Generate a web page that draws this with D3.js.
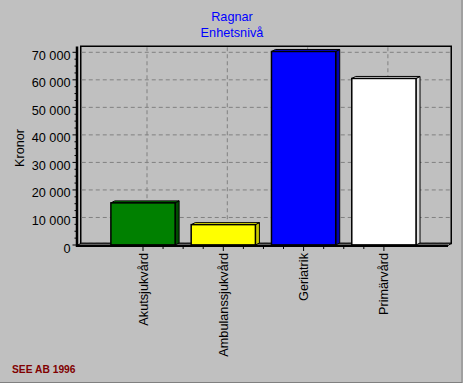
<!DOCTYPE html>
<html><head><meta charset="utf-8">
<script src="https://cdn.jsdelivr.net/npm/d3@7"></script>
<style>html,body{margin:0;padding:0;background:#c0c0c0;}svg{display:block;}</style>
</head><body>
<script>
const categories = ["Akutsjukvård", "Ambulanssjukvård", "Geriatrik", "Primärvård"];
const values = [15300, 7400, 70300, 60500];
const colors = ["#008000", "#ffff00", "#0000ff", "#ffffff"];
const sideColors = ["#004d00", "#c8c800", "#0000b0", "#e0e0e0"];
const yTicks = [0, 10000, 20000, 30000, 40000, 50000, 60000, 70000];
const titleLines = ["Ragnar", "Enhetsnivå"];
const yTitle = "Kronor";
const footer = "SEE AB 1996";

const W = 464, H = 384;
const FONT = "'Liberation Sans', Arial, sans-serif";
const dx = 4, dy = -2;
const svg = d3.select("body").append("svg").attr("width", W).attr("height", H);
svg.append("rect").attr("width", W).attr("height", H).attr("fill", "#c0c0c0");

const y = d3.scaleLinear().domain([0, 70000]).range([245, 52.3]);
const x = d3.scaleBand().domain(categories).range([102.85, 424.05]);
const cx = c => x(c) + x.bandwidth() / 2;
const bw = x.bandwidth() * 0.8;

const wall = {x0: 80.75, x1: 451.25, y0: 46.25, y1: 243.5};
// back wall
svg.append("rect").attr("x", wall.x0).attr("y", wall.y0)
  .attr("width", wall.x1 - wall.x0).attr("height", wall.y1 - wall.y0)
  .attr("fill", "#c0c0c0").attr("stroke", "#000").attr("stroke-width", 1.5);

// horizontal gridlines
svg.append("g").selectAll("line").data(yTicks).join("line")
  .attr("x1", wall.x0 + 1).attr("x2", wall.x1 - 1)
  .attr("y1", d => Math.min(y(d), 243)).attr("y2", d => Math.min(y(d), 243))
  .attr("stroke", "#808080").attr("stroke-dasharray", "4,3");
// vertical gridlines
svg.append("g").selectAll("line").data(categories).join("line")
  .attr("x1", d => cx(d) + dx).attr("x2", d => cx(d) + dx)
  .attr("y1", wall.y0 + 1).attr("y2", wall.y1)
  .attr("stroke", "#808080").attr("stroke-dasharray", "4,3");

// floor
svg.append("polygon")
  .attr("points", [[77, 245.5], [81, 243.3], [451.5, 243.3], [448, 245.5]].map(p => p.join(",")).join(" "))
  .attr("fill", "#c0c0c0").attr("stroke", "#000").attr("stroke-width", 1);

// bars
const bars = svg.append("g").selectAll("g").data(categories).join("g");
bars.each(function(c, i) {
  const g = d3.select(this);
  const x0 = cx(c) - bw / 2, x1 = cx(c) + bw / 2;
  const yt = y(values[i]), yb = y(0);
  g.append("polygon")
    .attr("points", [[x1, yt], [x1 + dx, yt + dy], [x1 + dx, yb + dy], [x1, yb]].map(p => p.join(",")).join(" "))
    .attr("fill", sideColors[i]).attr("stroke", "#000").attr("stroke-width", 1).attr("stroke-linejoin", "round");
  g.append("polygon")
    .attr("points", [[x0, yt], [x0 + dx, yt + dy], [x1 + dx, yt + dy], [x1, yt]].map(p => p.join(",")).join(" "))
    .attr("fill", colors[i]).attr("stroke", "#000").attr("stroke-width", 1).attr("stroke-linejoin", "round");
  g.append("rect").attr("x", x0).attr("y", yt).attr("width", bw).attr("height", yb - yt)
    .attr("fill", colors[i]).attr("stroke", "#000").attr("stroke-width", 1.5);
});

// axes lines
svg.append("line").attr("x1", 77).attr("x2", 77).attr("y1", 46.5).attr("y2", 247)
  .attr("stroke", "#000").attr("stroke-width", 2.5);
svg.append("line").attr("x1", 76).attr("x2", 448).attr("y1", 245.75).attr("y2", 245.75)
  .attr("stroke", "#000").attr("stroke-width", 2.5);

// y ticks (major + minor)
const minor = d3.range(0, 70001, 2500).filter(v => v % 10000 !== 0);
svg.append("g").selectAll("line").data(minor).join("line")
  .attr("x1", 74.5).attr("x2", 77).attr("y1", d => y(d)).attr("y2", d => y(d))
  .attr("stroke", "#000");
svg.append("g").selectAll("line").data(yTicks).join("line")
  .attr("x1", 72.5).attr("x2", 77).attr("y1", d => y(d)).attr("y2", d => y(d))
  .attr("stroke", "#000");
const fmt = v => d3.format(",")(v).replace(/,/g, " ");
svg.append("g").selectAll("text").data(yTicks).join("text")
  .attr("x", 70.5).attr("y", d => y(d) + 7.5)
  .attr("text-anchor", "end").attr("font-family", FONT).attr("font-size", 12.7)
  .attr("fill", "#000").text(fmt);

// x ticks
const xMinorTicks = [];
categories.forEach((c, i) => {
  if (i < categories.length - 1) {
    const step = x.step() / 4;
    for (let k = 1; k < 4; k++) xMinorTicks.push(cx(c) + k * step);
  }
});
svg.append("g").selectAll("line").data(xMinorTicks).join("line")
  .attr("x1", d => d).attr("x2", d => d).attr("y1", 246).attr("y2", 249)
  .attr("stroke", "#000");
svg.append("g").selectAll("line").data(categories).join("line")
  .attr("x1", d => cx(d)).attr("x2", d => cx(d)).attr("y1", 246).attr("y2", 251)
  .attr("stroke", "#000");
svg.append("g").selectAll("text").data(categories).join("text")
  .attr("transform", d => `translate(${cx(d)},253) rotate(-90)`)
  .attr("y", 4.5)
  .attr("text-anchor", "end").attr("font-family", FONT).attr("font-size", 12.7)
  .attr("fill", "#000").text(d => d);

// title
svg.append("g").selectAll("text").data(titleLines).join("text")
  .attr("x", 232).attr("y", (d, i) => 20.7 + i * 16)
  .attr("text-anchor", "middle").attr("font-family", FONT).attr("font-size", 12.7)
  .attr("fill", "#0000ff").text(d => d);

// y title
svg.append("text").attr("transform", "translate(24,148) rotate(-90)")
  .attr("text-anchor", "middle").attr("font-family", FONT).attr("font-size", 12.7)
  .attr("fill", "#000").text(yTitle);

// footer
svg.append("text").attr("x", 12).attr("y", 372.5)
  .attr("font-family", FONT).attr("font-size", 11.6).attr("font-weight", "bold")
  .attr("textLength", 63.5).attr("lengthAdjust", "spacingAndGlyphs")
  .attr("fill", "#800000").text(footer);

// window border
svg.append("line").attr("x1", 462).attr("x2", 462).attr("y1", 0).attr("y2", 383).attr("stroke", "#808080");
svg.append("line").attr("x1", 0).attr("x2", 462).attr("y1", 382.5).attr("y2", 382.5).attr("stroke", "#808080");
svg.append("line").attr("x1", 463.5).attr("x2", 463.5).attr("y1", 0).attr("y2", 384).attr("stroke", "#ffffff");
svg.append("line").attr("x1", 0).attr("x2", 464).attr("y1", 383.5).attr("y2", 383.5).attr("stroke", "#ffffff");
</script>
</body></html>
